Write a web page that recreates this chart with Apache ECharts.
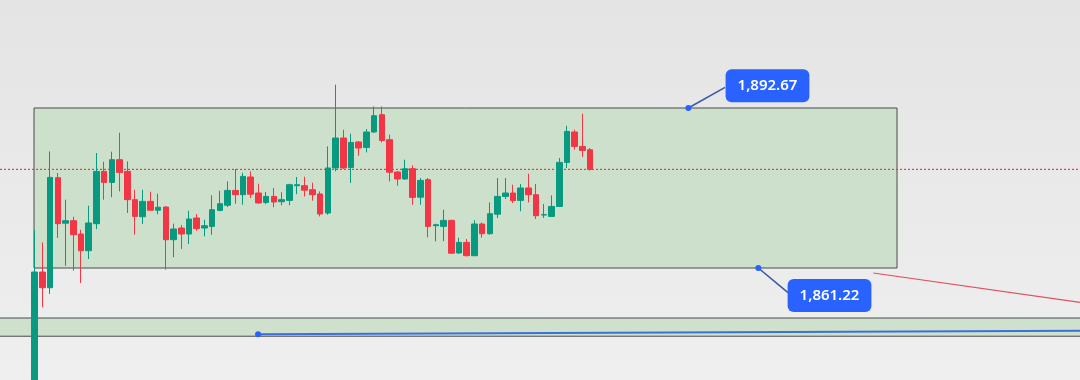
<!DOCTYPE html>
<html><head><meta charset="utf-8">
<script src="https://cdn.jsdelivr.net/npm/echarts@6/dist/echarts.min.js"></script>
<style>
html,body{margin:0;padding:0;background:#ebebeb;}
#c{width:1080px;height:380px;background:linear-gradient(180deg,#e4e4e4 0%,#e9e9e9 45%,#efefef 100%);}
</style>
</head><body><div id="c"></div>
<script>
// ---- candle data (price units) ----
const opens  = [1831.40,1860.43,1857.35,1878.97,1870.03,1870.52,1867.90,1864.62,1869.93,1880.21,
                1878.05,1882.51,1880.21,1874.65,1871.30,1874.31,1872.58,1873.21,1866.78,1869.08,
                1867.90,1871.05,1869.08,1869.40,1872.54,1873.56,1876.47,1875.63,1879.11,1875.96,
                1874.11,1875.29,1874.25,1874.51,1877.40,1877.40,1876.61,1875.77,1872.03,1880.88,
                1886.77,1880.99,1885.99,1884.93,1887.95,1891.35,1886.44,1880.09,1878.71,1880.74,
                1875.14,1878.58,1869.53,1869.40,1870.58,1864.17,1866.25,1863.64,1869.87,1867.96,
                1871.80,1875.29,1875.96,1874.51,1876.95,1875.63,1871.64,1871.36,1873.33,1881.98,
                1887.95,1885.12,1884.47];
const closes = [1860.43,1857.35,1879.03,1869.93,1870.52,1867.77,1864.62,1870.07,1880.21,1878.05,
                1882.51,1880.01,1874.65,1871.36,1874.31,1872.58,1873.17,1866.78,1868.89,1867.90,
                1870.85,1868.95,1869.53,1872.68,1873.86,1876.47,1875.63,1879.23,1875.73,1874.00,
                1875.29,1874.19,1874.65,1877.59,1877.59,1876.51,1875.63,1871.83,1880.88,1886.77,
                1880.88,1885.91,1884.81,1887.95,1891.16,1886.30,1880.05,1878.71,1880.74,1875.10,
                1878.44,1869.40,1869.73,1870.58,1864.13,1866.25,1863.64,1869.87,1867.96,1871.89,
                1875.29,1875.96,1874.45,1876.95,1875.63,1871.50,1871.70,1873.33,1881.98,1888.07,
                1885.12,1884.34,1880.60];
const lows   = [1829.44,1853.48,1856.11,1867.12,1861.67,1860.69,1858.27,1862.99,1868.85,1874.65,
                1875.14,1876.28,1872.03,1867.77,1869.87,1872.48,1871.80,1860.89,1863.34,1864.96,
                1865.94,1868.55,1867.43,1867.77,1872.38,1873.21,1873.86,1873.66,1874.98,1873.86,
                1873.76,1873.17,1873.56,1873.56,1875.73,1875.29,1874.45,1871.36,1871.70,1880.21,
                1880.68,1877.93,1883.29,1883.94,1887.76,1885.91,1878.24,1877.40,1878.58,1873.66,
                1873.66,1867.24,1866.45,1866.49,1864.03,1864.03,1863.50,1863.54,1867.18,1867.77,
                1871.05,1874.78,1874.00,1872.38,1874.11,1870.85,1871.05,1871.24,1873.27,1880.88,
                1884.47,1883.04,1880.35];
const highs  = [1868.65,1866.25,1884.14,1879.89,1874.65,1871.30,1868.75,1873.47,1883.82,1882.11,
                1884.08,1887.81,1882.17,1876.61,1876.61,1876.22,1875.82,1873.37,1869.93,1869.67,
                1872.48,1871.80,1870.71,1875.53,1876.41,1878.24,1880.68,1879.95,1880.21,1877.79,
                1876.16,1876.95,1876.12,1877.79,1879.11,1879.17,1877.99,1876.28,1885.12,1897.25,
                1888.40,1887.62,1886.14,1888.54,1892.98,1892.98,1887.42,1880.25,1882.51,1881.39,
                1878.91,1878.91,1869.93,1872.68,1870.71,1867.18,1866.92,1870.62,1870.18,1874.11,
                1878.91,1878.91,1877.59,1877.73,1879.76,1877.73,1873.80,1875.49,1882.84,1889.19,
                1888.40,1891.55,1884.81];

// ---- drawing levels (x in bar slots, y in price) ----
const boxTop = 1892.67, boxBottom = 1861.22;
const boxStartX = 3.91, boxEndX = 115.78;
const bandTop = 1851.39, bandBottom = 1847.81;
const blueLine = [[32.95, 1848.21], [139.5, 1848.90]];
const redLine  = [[112.71, 1860.24], [139.5, 1854.46]];
const topDot = [88.73, boxTop],  topElbow = [93.49, 1896.72], topLabelPos = [98.99, 1897.05];
const botDot = [97.80, boxBottom], botElbow = [101.65, 1856.37], botLabelPos = [107.03, 1855.83];

const SLOTS = 140, FIRST_SLOT = 4;
const X_MIN = -0.5, X_MAX = SLOTS - 0.5;
const Y_MIN = 1839.205, Y_MAX = 1913.899;
const categories = Array.from({length: SLOTS}, (_, i) => 'b' + i);
const lastPrice = closes[closes.length - 1];

const candleData = Array(FIRST_SLOT).fill('-').concat(
  opens.map((o, i) => [o, closes[i], lows[i], highs[i]]));

const fmt = v => v.toLocaleString('en-US', {minimumFractionDigits: 2, maximumFractionDigits: 2});
const UP = '#089981', DOWN = '#f23645', BLUE = '#2962ff';

const chart = echarts.init(document.getElementById('c'), null, {renderer: 'canvas'});
const lineBase = {type: 'line', xAxisIndex: 1, yAxisIndex: 0, showSymbol: false, symbol: 'none', silent: true, animation: false};

chart.setOption({
  animation: false,
  backgroundColor: 'transparent',
  grid: {left: 0, right: 0, top: 0, bottom: 0},
  xAxis: [
    {type: 'category', data: categories, boundaryGap: true, show: false},
    {type: 'value', min: X_MIN, max: X_MAX, show: false}
  ],
  yAxis: {type: 'value', min: Y_MIN, max: Y_MAX, show: false, splitLine: {show: false}},
  series: [
    Object.assign({}, lineBase, {
      z: 1, data: [[boxStartX, boxTop]], lineStyle: {opacity: 0},
      markArea: {silent: true, data: [[
        {coord: [boxStartX, boxTop], itemStyle: {color: '#cde0cb', borderColor: '#4a4a4a', borderWidth: 1}},
        {coord: [boxEndX, boxBottom]}
      ]]}
    }),
    Object.assign({}, lineBase, {
      z: 1, data: [[X_MIN, bandTop]], lineStyle: {opacity: 0},
      markArea: {silent: true, data: [[
        {coord: [X_MIN, bandTop], itemStyle: {color: '#cfe1cd', borderWidth: 0}},
        {coord: [X_MAX, bandBottom]}
      ]]}
    }),
    Object.assign({}, lineBase, {z: 2, data: [[X_MIN, bandTop], [X_MAX, bandTop]], lineStyle: {color: '#4a4a4a', width: 1}}),
    Object.assign({}, lineBase, {z: 2, data: [[X_MIN, bandBottom], [X_MAX, bandBottom]], lineStyle: {color: '#4a4a4a', width: 1}}),
    Object.assign({}, lineBase, {z: 2, data: [[X_MIN, lastPrice], [X_MAX, lastPrice]], lineStyle: {color: '#f03c3c', width: 1.2, opacity: 1, type: [2, 2]}}),
    {
      type: 'candlestick', xAxisIndex: 0, yAxisIndex: 0, z: 5, clip: true,
      barWidth: 6, data: candleData,
      itemStyle: {color: UP, color0: DOWN, borderColor: UP, borderColor0: DOWN, borderWidth: 1}
    },
    Object.assign({}, lineBase, {z: 6, data: redLine, lineStyle: {color: '#e0505f', width: 1.2}}),
    Object.assign({}, lineBase, {z: 6, data: blueLine, lineStyle: {color: '#3b6fe0', width: 2}}),
    Object.assign({}, lineBase, {z: 6, data: [topDot, topElbow], lineStyle: {color: '#3a5aa0', width: 1.6}}),
    Object.assign({}, lineBase, {z: 6, data: [botDot, botElbow], lineStyle: {color: '#3a5aa0', width: 1.6}}),
    {
      type: 'scatter', xAxisIndex: 1, yAxisIndex: 0, z: 8, silent: true,
      symbolSize: 6, itemStyle: {color: BLUE, opacity: 1},
      data: [topDot, botDot, blueLine[0]]
    },
    {
      type: 'scatter', xAxisIndex: 1, yAxisIndex: 0, z: 9, silent: true,
      symbolSize: 1, itemStyle: {color: BLUE, opacity: 1},
      data: [{value: topLabelPos, price: boxTop}, {value: botLabelPos, price: boxBottom}],
      label: {
        show: true, position: 'inside', opacity: 1,
        formatter: p => fmt(p.data.price),
        color: '#ffffff', fontSize: 15, fontWeight: 600, fontFamily: 'Noto Sans, Open Sans, sans-serif',
        lineHeight: 17, backgroundColor: BLUE, borderRadius: 6, padding: [8, 12, 8, 12]
      }
    }
  ]
});
</script></body></html>
